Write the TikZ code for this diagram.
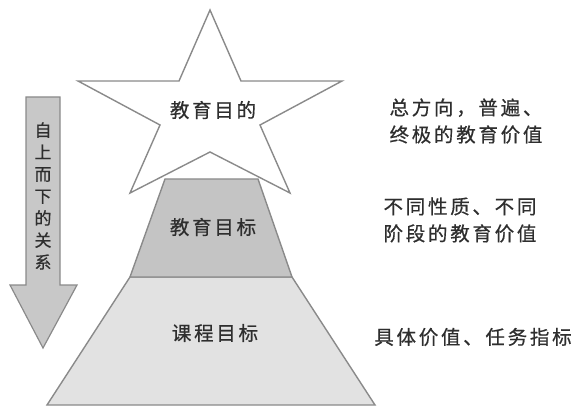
\documentclass[tikz,border=0pt]{standalone}
\usepackage{fontspec}
\newfontfamily\cjk[LetterSpace=14,FakeBold=0.6]{Noto Sans CJK SC}
\newfontfamily\cjkv[FakeBold=0.5]{Noto Sans CJK SC}
\definecolor{edge}{HTML}{8A8A8A}
\definecolor{midfill}{HTML}{C4C4C4}
\definecolor{lowfill}{HTML}{E2E2E2}
\definecolor{arrowfill}{HTML}{C8C8C8}
\definecolor{ink}{HTML}{2E2E2E}
\tikzset{
  shapeline/.style={draw=edge, line width=1.4pt, line join=miter},
  label/.style={text=ink, font=\cjk\fontsize{19.5}{25}\selectfont, inner sep=0pt},
  note/.style={text=ink, font=\cjk\fontsize{19.5}{27}\selectfont, inner sep=0pt, align=center},
  vlabel/.style={text=ink, font=\cjkv\fontsize{17}{22}\selectfont, inner sep=0pt, align=center}
}
\begin{document}
\begin{tikzpicture}[x=1pt,y=-1pt]
\useasboundingbox (0,0) rectangle (575,406);
% bottom section
\path[shapeline, fill=lowfill] (130,277) -- (292,277) -- (375,405) -- (47,405) -- cycle;
% middle section
\path[shapeline, fill=midfill] (165,179) -- (258,179) -- (292,277) -- (130,277) -- cycle;
% star
\path[shapeline, fill=white] (210,10) -- (241,81) -- (342,81) -- (260,125) -- (290,193)
  -- (210,152) -- (130,193) -- (160,125) -- (78,81) -- (179,81) -- cycle;
% arrow
\path[shapeline, fill=arrowfill, line width=1.2pt] (26,97) -- (60,97) -- (60,285) -- (77,285)
  -- (43,348) -- (10,285) -- (26,285) -- cycle;
% labels
\node[label] (goal) at (213,110) {教育目的};
\node[label] (aim) at (213,227) {教育目标};
\node[label] (course) at (215,333) {课程目标};
\node[vlabel] (dir) at (43,196) {自\\上\\而\\下\\的\\关\\系};
\node[note] (n1) at (466,121) {总方向，普遍、\\终极的教育价值};
\node[note] (n2) at (460,220) {不同性质、不同\\阶段的教育价值};
\node[note] (n3) at (473,337) {具体价值、任务指标};
\end{tikzpicture}
\end{document}
